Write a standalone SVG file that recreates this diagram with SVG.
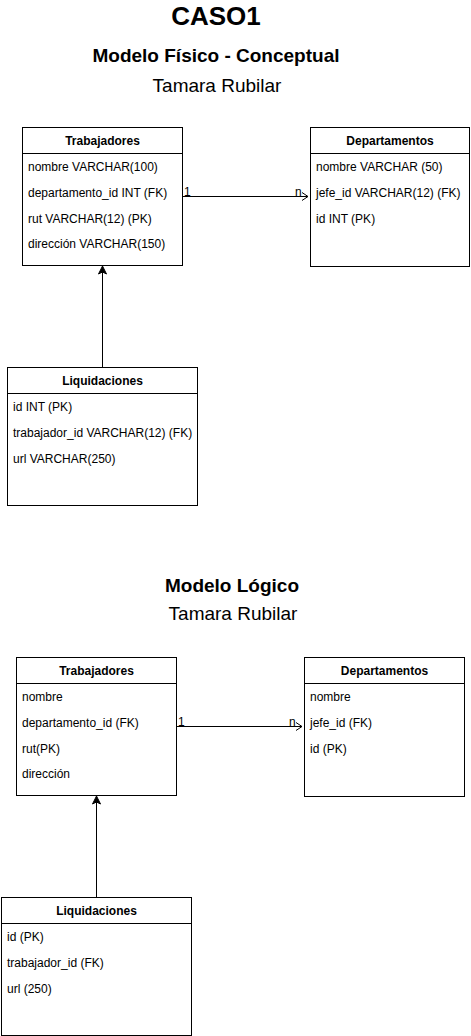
<svg xmlns="http://www.w3.org/2000/svg" width="471" height="1036" viewBox="0 0 471 1036">
<style>
  text { font-family: "Liberation Sans", Arial, sans-serif; fill: #000; }
  .box { fill: #fff; stroke: #000; stroke-width: 1; }
  .sep { stroke: #000; stroke-width: 1; }
  .hdr { font-size: 12px; font-weight: bold; text-anchor: middle; }
  .row { font-size: 12px; }
  .lbl { font-size: 12px; }
  .edge { stroke: #000; stroke-width: 1; fill: none; }
  .t1 { font-size: 26px; font-weight: bold; text-anchor: middle; }
  .t2 { font-size: 19px; font-weight: bold; text-anchor: middle; }
  .t3 { font-size: 19px; text-anchor: middle; }
</style>
<rect width="471" height="1036" fill="#fff"/>
<g id="titles">
  <text class="t1" x="216" y="25">CASO1</text>
  <text class="t2" x="216" y="62">Modelo Físico - Conceptual</text>
  <text class="t3" x="217" y="92">Tamara Rubilar</text>
  <text class="t2" x="232" y="592">Modelo Lógico</text>
  <text class="t3" x="233" y="620">Tamara Rubilar</text>
</g>
<g id="trabajadores1">
  <rect class="box" x="22.5" y="127.5" width="160" height="138"/>
  <line class="sep" x1="22.5" y1="153.5" x2="182.5" y2="153.5"/>
  <text class="hdr" x="102.5" y="145">Trabajadores</text>
  <text class="row" x="28" y="171">nombre VARCHAR(100)</text>
  <text class="row" x="28" y="197">departamento_id INT (FK)</text>
  <text class="row" x="28" y="223">rut VARCHAR(12) (PK)</text>
  <text class="row" x="28" y="248">dirección VARCHAR(150)</text>
</g>
<g id="departamentos1">
  <rect class="box" x="310.5" y="127.5" width="159" height="139"/>
  <line class="sep" x1="310.5" y1="153.5" x2="469.5" y2="153.5"/>
  <text class="hdr" x="390" y="145">Departamentos</text>
  <text class="row" x="316" y="171">nombre VARCHAR (50)</text>
  <text class="row" x="316" y="197">jefe_id VARCHAR(12) (FK)</text>
  <text class="row" x="316" y="223">id INT (PK)</text>
</g>
<g id="liquidaciones1">
  <rect class="box" x="7.5" y="367.5" width="190" height="138"/>
  <line class="sep" x1="7.5" y1="393.5" x2="197.5" y2="393.5"/>
  <text class="hdr" x="102.5" y="385">Liquidaciones</text>
  <text class="row" x="13" y="411">id INT (PK)</text>
  <text class="row" x="13" y="437">trabajador_id VARCHAR(12) (FK)</text>
  <text class="row" x="13" y="463">url VARCHAR(250)</text>
</g>
<g id="trabajadores2">
  <rect class="box" x="16.5" y="657.5" width="160" height="138"/>
  <line class="sep" x1="16.5" y1="683.5" x2="176.5" y2="683.5"/>
  <text class="hdr" x="96.5" y="675">Trabajadores</text>
  <text class="row" x="22" y="701">nombre</text>
  <text class="row" x="22" y="727">departamento_id (FK)</text>
  <text class="row" x="22" y="753">rut(PK)</text>
  <text class="row" x="22" y="778">dirección</text>
</g>
<g id="departamentos2">
  <rect class="box" x="304.5" y="657.5" width="160" height="139"/>
  <line class="sep" x1="304.5" y1="683.5" x2="464.5" y2="683.5"/>
  <text class="hdr" x="384.5" y="675">Departamentos</text>
  <text class="row" x="310" y="701">nombre</text>
  <text class="row" x="310" y="727">jefe_id (FK)</text>
  <text class="row" x="310" y="753">id (PK)</text>
</g>
<g id="liquidaciones2">
  <rect class="box" x="1.5" y="897.5" width="190" height="138"/>
  <line class="sep" x1="1.5" y1="923.5" x2="191.5" y2="923.5"/>
  <text class="hdr" x="96.5" y="915">Liquidaciones</text>
  <text class="row" x="7" y="941">id (PK)</text>
  <text class="row" x="7" y="967">trabajador_id (FK)</text>
  <text class="row" x="7" y="993">url (250)</text>
</g>
<g id="connectors">
  <line class="edge" x1="182.5" y1="196.5" x2="308" y2="196.5"/>
  <path class="edge" d="M302,192.5 L308,196.5 L302,200.5"/>
  <text class="lbl" x="184" y="196">1</text>
  <text class="lbl" x="295" y="196">n</text>
  <line class="edge" x1="102.5" y1="367.5" x2="102.5" y2="272"/>
  <path d="M102.5,266 L106.5,274 L102.5,272 L98.5,274 Z" fill="#000" stroke="#000" stroke-width="1"/>
  <line class="edge" x1="176.5" y1="726.5" x2="302" y2="726.5"/>
  <path class="edge" d="M296,722.5 L302,726.5 L296,730.5"/>
  <text class="lbl" x="178" y="726">1</text>
  <text class="lbl" x="289" y="726">n</text>
  <line class="edge" x1="96.5" y1="897.5" x2="96.5" y2="802"/>
  <path d="M96.5,796 L100.5,804 L96.5,802 L92.5,804 Z" fill="#000" stroke="#000" stroke-width="1"/>
</g>
</svg>
